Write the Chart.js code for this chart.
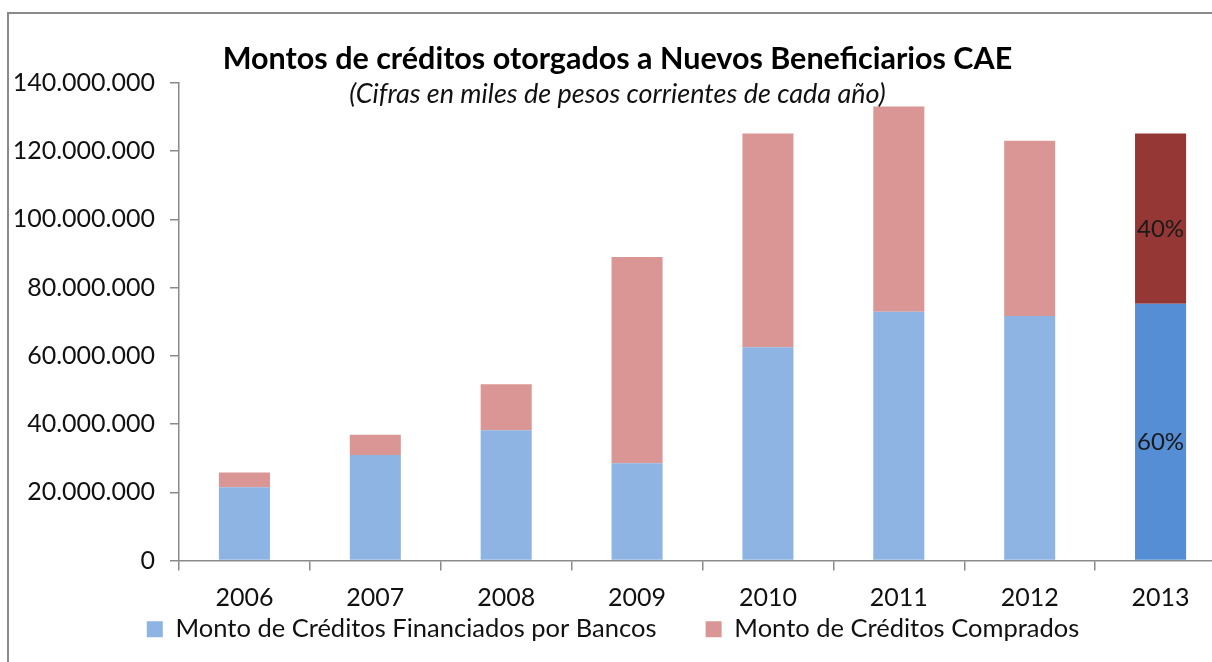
<!DOCTYPE html>
<html>
<head>
<meta charset="utf-8">
<script src="https://cdn.jsdelivr.net/npm/chart.js@4"></script>
<style>
  html, body { margin: 0; padding: 0; background: #fff; overflow: hidden; }
  #wrap { position: relative; width: 1212px; height: 662px; overflow: hidden; }
  #frame { position: absolute; left: 7px; top: 12px; width: 1300px; height: 700px;
           border-left: 2px solid #8a8a8a; border-top: 2px solid #8a8a8a; }
  #holder { position: absolute; left: 0; top: 0; width: 1242px; height: 662px; }
  .ttl { position: absolute; left: 0; width: 1235px; text-align: center; font-family: Lato, sans-serif; color: #000; line-height: 1; }
  #title { top: 42px; font-size: 30.5px; font-weight: bold; }
  #subtitle { top: 79px; font-size: 27px; font-style: italic; color: #111; }
</style>
</head>
<body>
<div id="wrap">
  <div id="frame"></div>
  <div id="holder"><canvas id="chart"></canvas></div>
  <div class="ttl" id="title">Montos de créditos otorgados a Nuevos Beneficiarios CAE</div>
  <div class="ttl" id="subtitle">(Cifras en miles de pesos corrientes de cada año)</div>
</div>
<script>
const years = ['2006', '2007', '2008', '2009', '2010', '2011', '2012', '2013'];
const bancos = [21500000, 30900000, 38200000, 28500000, 62500000, 72900000, 71700000, 75300000];
const comprados = [4300000, 6000000, 13500000, 60500000, 62700000, 60200000, 51400000, 49900000];
const bancosPct = ['', '', '', '', '', '', '', '60%'];
const compradosPct = ['', '', '', '', '', '', '', '40%'];
const highlightIndex = 7;

const seriesNames = ['Monto de Créditos Financiados por Bancos', 'Monto de Créditos Comprados'];

Chart.defaults.font.family = 'Lato, sans-serif';
Chart.defaults.color = '#111';

function fmt(v) {
    return String(v).replace(/\B(?=(\d{3})+(?!\d))/g, '.');
}

// percent labels inside the 2013 bar
const pctPlugin = {
    id: 'pctLabels',
    afterDatasetsDraw(chart) {
        const ctx = chart.ctx;
        const lists = [bancosPct, compradosPct];
        ctx.save();
        ctx.font = '24px Lato, sans-serif';
        ctx.fillStyle = '#1a1a1a';
        ctx.textAlign = 'center';
        ctx.textBaseline = 'middle';
        chart.data.datasets.forEach((ds, i) => {
            chart.getDatasetMeta(i).data.forEach((bar, j) => {
                const txt = lists[i][j];
                if (!txt) return;
                ctx.fillText(txt, bar.x, (bar.y + bar.base) / 2 + 11);
            });
        });
        ctx.restore();
    }
};

const ctx = document.getElementById('chart').getContext('2d');
new Chart(ctx, {
    type: 'bar',
    data: {
        labels: years,
        datasets: [{
            label: seriesNames[0],
            data: bancos,
            backgroundColor: c => c.dataIndex === highlightIndex ? '#558ed5' : '#8eb4e3',
            borderWidth: 0
        }, {
            label: seriesNames[1],
            data: comprados,
            backgroundColor: c => c.dataIndex === highlightIndex ? '#953735' : '#d99694',
            borderWidth: 0
        }]
    },
    options: {
        responsive: true,
        maintainAspectRatio: false,
        animation: false,
        datasets: { bar: { categoryPercentage: 1, barPercentage: 0.39 } },
        layout: { padding: { top: 83, right: 16, bottom: 10, left: 0 } },
        plugins: {
            tooltip: { enabled: false },
            legend: {
                position: 'bottom',
                labels: {
                    boxWidth: 16,
                    boxHeight: 16,
                    padding: 10,
                    font: { size: 25.5 },
                    color: '#111',
                    generateLabels(chart) {
                        const items = Chart.defaults.plugins.legend.labels.generateLabels(chart);
                        items.forEach((it, i) => {
                            it.fillStyle = i === 0 ? '#8eb4e3' : '#d99694';
                            it.strokeStyle = 'rgba(0,0,0,0)';
                            it.lineWidth = 0;
                            if (i === 0) it.text = it.text + '      ';
                        });
                        return items;
                    }
                }
            }
        },
        scales: {
            x: {
                stacked: true,
                grid: { drawOnChartArea: false, drawTicks: true, tickLength: 10, color: '#8a8a8a', lineWidth: 1.5 },
                border: { display: true, color: '#8a8a8a', width: 1.5 },
                ticks: { font: { size: 25 }, color: '#111', padding: 12 },
                afterFit(scale) { scale.height = 46; }
            },
            y: {
                stacked: true,
                min: 0,
                max: 140000000,
                grid: { drawOnChartArea: false, drawTicks: true, tickLength: 9, color: '#8a8a8a', lineWidth: 1.5 },
                border: { display: true, color: '#8a8a8a', width: 1.5 },
                ticks: {
                    stepSize: 20000000,
                    font: { size: 25 },
                    color: '#111',
                    padding: 15,
                    callback: v => fmt(v)
                },
                afterFit(scale) { scale.width = 179; }
            }
        }
    },
    plugins: [pctPlugin]
});
</script>
</body>
</html>
